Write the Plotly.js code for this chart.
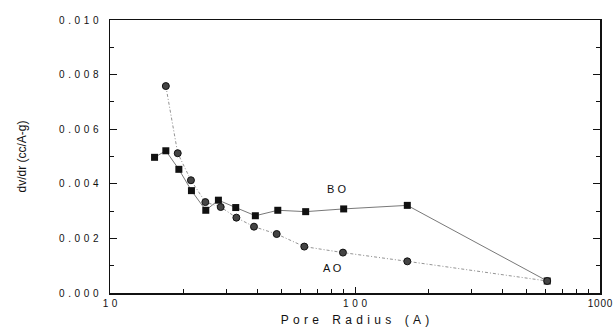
<!DOCTYPE html>
<html><head><meta charset="utf-8">
<script src="https://cdn.plot.ly/plotly-3.0.1.min.js"></script>
<style>html,body{margin:0;padding:0;background:#fff}#c{width:614px;height:334px}</style>
</head><body><div id="c"></div>
<script>
const boRadius = [15.2, 16.9, 19.1, 21.5, 24.6, 27.7, 32.6, 39.2, 48.4, 62.9, 89.9, 163.5, 609];
const boDvdr   = [0.00497, 0.00521, 0.00453, 0.00375, 0.00303, 0.00340, 0.00313, 0.00283, 0.00303, 0.00298, 0.00308, 0.00321, 0.00044];
const aoRadius = [16.9, 18.9, 21.4, 24.5, 28.3, 32.8, 38.7, 47.9, 62.1, 89.3, 163.5, 609];
const aoDvdr   = [0.00758, 0.00512, 0.00413, 0.00333, 0.00315, 0.00276, 0.00243, 0.00216, 0.00170, 0.00148, 0.00116, 0.00044];
const xTickVals = [10, 100, 1000];
const xTickText = ['10', '100', '1000'];
const xMinorVals = [20,30,40,50,60,70,80,90,200,300,400,500,600,700,800,900];
const yTickVals = [0, 0.002, 0.004, 0.006, 0.008, 0.010];
const yTickText = ['0.000', '0.002', '0.004', '0.006', '0.008', '0.010'];
const labels = [{text: 'B O', x: 84, y: 0.00380}, {text: 'A O', x: 81, y: 0.00092}];

const gap = '\u00A0\u200A';
const sp = s => s.split('').join(gap);
const spTight = s => s.split('').join('\u200A');
const font = {family: 'Liberation Sans, Arial, sans-serif', color: '#111'};
const data = [
  {x: boRadius, y: boDvdr, type: 'scatter', mode: 'lines+markers', name: 'BO',
   line: {color: '#555', width: 0.8},
   marker: {symbol: 'square', size: 7, color: '#111', line: {width: 0}}},
  {x: aoRadius, y: aoDvdr, type: 'scatter', mode: 'lines+markers', name: 'AO',
   line: {color: '#777', width: 0.8, dash: '3px,2px,1px,2px'},
   marker: {symbol: 'circle', size: 7, color: '#444', line: {width: 1, color: '#111'}}}
];
const layout = {
  width: 614, height: 334,
  margin: {l: 110, r: 14, t: 20, b: 41},
  paper_bgcolor: '#fff', plot_bgcolor: '#fff',
  showlegend: false,
  font: font,
  xaxis: {type: 'log', range: [1, 3], showgrid: false, zeroline: false,
    showline: true, linecolor: '#111', linewidth: 1.5, mirror: true,
    ticks: 'inside', ticklen: 6, tickcolor: '#111', tickwidth: 1,
    tickmode: 'array', tickvals: xTickVals,
    ticktext: xTickText.map((t, i) => i === xTickText.length - 1 ? spTight(t) : sp(t)),
    tickfont: {size: 10, family: font.family, color: '#111'},
    ticklabeloverflow: 'allow',
    minor: {tickmode: 'array', tickvals: xMinorVals, ticks: 'inside', ticklen: 4, tickcolor: '#111', showgrid: false},
    title: {text: sp('Pore') + '\u00A0\u00A0\u00A0\u00A0' + sp('Radius') + '\u00A0\u00A0\u00A0\u00A0' + sp('(A)'),
      font: {size: 12, family: font.family, color: '#111'}, standoff: 8}},
  yaxis: {range: [0, 0.010], showgrid: false, zeroline: false,
    showline: true, linecolor: '#111', linewidth: 1.5, mirror: 'ticks',
    ticks: 'inside', ticklen: 7, tickcolor: '#111', tickwidth: 1,
    tickmode: 'array', tickvals: yTickVals, ticktext: yTickText.map(sp),
    tickfont: {size: 10, family: font.family, color: '#111'},
    ticklabelstandoff: 8,
    minor: {dtick: 0.001, ticks: 'inside', ticklen: 4, tickcolor: '#111', showgrid: false},
    title: {text: 'dv/dr (cc/A-g)', font: {size: 12, family: font.family, color: '#111'}, standoff: 30}},
  annotations: labels.map(l => ({text: l.text, x: Math.log10(l.x), y: l.y, xref: 'x', yref: 'y',
    showarrow: false, font: {size: 11, family: font.family, color: '#111'}}))
};
Plotly.newPlot('c', data, layout, {staticPlot: true});
</script></body></html>
